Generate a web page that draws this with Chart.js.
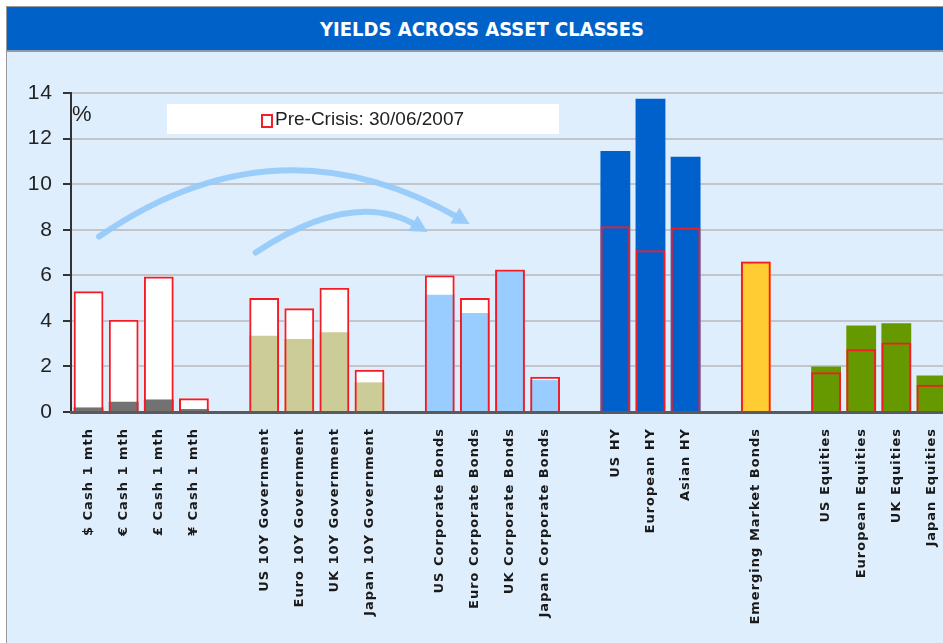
<!DOCTYPE html>
<html>
<head>
<meta charset="utf-8">
<script src="https://cdn.jsdelivr.net/npm/chart.js@4.4.1/dist/chart.umd.min.js"></script>
<style>
  html, body { margin: 0; padding: 0; width: 943px; height: 643px; overflow: hidden; background: #fff; }
  #panel { position: absolute; left: 6px; top: 6px; width: 940px; height: 640px; background: #dfeefd;
           border-left: 1px solid #9a9a9a; border-top: 1px solid #9a9a9a; }
  #title { position: absolute; left: 7px; top: 7px; width: 936px; height: 45px; box-sizing: border-box;
           padding-left: 14px; background: #0062c9; border-bottom: 2px solid #8d9bab; color: #fff;
           font: bold 20px 'DejaVu Sans Condensed', 'DejaVu Sans', sans-serif; font-stretch: condensed;
           text-align: center; line-height: 44px; }
  #chart { position: absolute; left: 0; top: 0; }
  #legend { position: absolute; left: 167px; top: 104px; width: 392px; height: 30px; background: #fff;
            font: 19px 'Liberation Sans', Arial, sans-serif; color: #222; }
  #legend .box { position: absolute; left: 94px; top: 10px; width: 12px; height: 14px; box-sizing: border-box;
                 border: 2px solid #f0202a; background: #fff; }
  #legend .txt { position: absolute; left: 108px; top: 0; line-height: 30px; white-space: nowrap; }
  #pct { position: absolute; left: 72px; top: 101px; font: 22px 'Liberation Sans', Arial, sans-serif; color: #222; }
</style>
</head>
<body>
<div id="panel"></div>
<div id="title">YIELDS ACROSS ASSET CLASSES</div>
<canvas id="chart" width="960" height="643"></canvas>
<div id="legend"><span class="box"></span><span class="txt">Pre-Crisis: 30/06/2007</span></div>
<div id="pct">%</div>
<script>
// empty strings are the gaps between asset groups
const categories = [
  '$ Cash 1 mth', '€ Cash 1 mth', '£ Cash 1 mth', '¥ Cash 1 mth', '',
  'US 10Y Government', 'Euro 10Y Government', 'UK 10Y Government', 'Japan 10Y Government', '',
  'US Corporate Bonds', 'Euro Corporate Bonds', 'UK Corporate Bonds', 'Japan Corporate Bonds', '',
  'US HY', 'European HY', 'Asian HY', '',
  'Emerging Market Bonds', '',
  'US Equities', 'European Equities', 'UK Equities', 'Japan Equities'
];
const groups = [
  'cash', 'cash', 'cash', 'cash', null,
  'gov', 'gov', 'gov', 'gov', null,
  'corp', 'corp', 'corp', 'corp', null,
  'hy', 'hy', 'hy', null,
  'em', null,
  'eq', 'eq', 'eq', 'eq'
];
const currentYield = [
  0.2, 0.45, 0.55, 0.13, null,
  3.35, 3.2, 3.5, 1.3, null,
  5.15, 4.35, 6.2, 1.4, null,
  11.45, 13.75, 11.2, null,
  6.6, null,
  2.0, 3.8, 3.9, 1.6
];
const preCrisis = [
  5.3, 4.05, 5.95, 0.6, null,
  5.0, 4.55, 5.45, 1.85, null,
  6.0, 5.0, 6.25, 1.55, null,
  8.15, 7.1, 8.1, null,
  6.6, null,
  1.75, 2.75, 3.05, 1.2
];
const yMin = 0, yMax = 14, yStep = 2;

const groupColors = {
  cash: '#727272',
  gov: '#cccc99',
  corp: '#99ccff',
  hy: '#0060cc',
  em: '#ffcc33',
  eq: '#669900'
};
const red = '#f41c24';

// the two light blue arrows, in (category index, value) coordinates
const arrows = [
  { from: [0.3, 7.7], peak: [5.47, 10.53], to: [10.85, 8.25] },
  { from: [4.76, 7.0], peak: [7.38, 8.64], to: [9.65, 7.9] }
];

const arrowPlugin = {
  id: 'arrows',
  beforeDatasetsDraw(chart) {
    const { ctx, scales: { x, y } } = chart;
    ctx.save();
    ctx.strokeStyle = 'rgba(150,202,250,0.95)';
    ctx.fillStyle = 'rgba(150,202,250,0.95)';
    ctx.lineWidth = 6;
    ctx.lineCap = 'round';
    arrows.forEach(a => {
      const p0 = [x.getPixelForValue(a.from[0]), y.getPixelForValue(a.from[1])];
      const pm = [x.getPixelForValue(a.peak[0]), y.getPixelForValue(a.peak[1])];
      const p2 = [x.getPixelForValue(a.to[0]), y.getPixelForValue(a.to[1])];
      const c = [2 * pm[0] - (p0[0] + p2[0]) / 2, 2 * pm[1] - (p0[1] + p2[1]) / 2];
      let dx = p2[0] - c[0], dy = p2[1] - c[1];
      const len = Math.hypot(dx, dy);
      dx /= len; dy /= len;
      const endX = p2[0] - dx * 12, endY = p2[1] - dy * 12;
      ctx.beginPath();
      ctx.moveTo(p0[0], p0[1]);
      ctx.quadraticCurveTo(c[0], c[1], endX, endY);
      ctx.stroke();
      const bx = p2[0] - dx * 17, by = p2[1] - dy * 17;
      ctx.beginPath();
      ctx.moveTo(p2[0], p2[1]);
      ctx.lineTo(bx - dy * 9, by + dx * 9);
      ctx.lineTo(bx + dy * 9, by - dx * 9);
      ctx.closePath();
      ctx.fill();
    });
    ctx.restore();
  }
};

const spacingPlugin = {
  id: 'spacing',
  beforeDraw(chart) {
    chart.ctx.letterSpacing = '1px';
  }
};

const ctx = document.getElementById('chart').getContext('2d');
const fillColors = groups.map(g => g ? groupColors[g] : 'transparent');

new Chart(ctx, {
  type: 'bar',
  data: {
    labels: categories,
    datasets: [
      {
        label: 'Pre-Crisis outline',
        data: preCrisis,
        backgroundColor: 'rgba(0,0,0,0)',
        borderColor: red,
        borderWidth: 2,
        borderSkipped: 'start',
        grouped: false,
        order: 0
      },
      {
        label: 'Current',
        data: currentYield,
        backgroundColor: fillColors,
        borderWidth: 0,
        grouped: false,
        order: 1
      },
      {
        label: 'Pre-Crisis: 30/06/2007',
        data: preCrisis,
        backgroundColor: '#ffffff',
        borderWidth: 0,
        grouped: false,
        order: 2
      }
    ]
  },
  options: {
    responsive: false,
    animation: false,
    layout: { padding: { top: 93, right: 11, bottom: 0, left: 0 } },
    datasets: {
      bar: { categoryPercentage: 1, barPercentage: 0.85 }
    },
    scales: {
      x: {
        afterFit(scale) { scale.height = 231; },
        grid: { display: false },
        border: { display: true, color: '#5a5a5a', width: 3, z: 1 },
        ticks: {
          autoSkip: false,
          minRotation: 90,
          maxRotation: 90,
          padding: 8,
          color: '#1a1a1a',
          font: { family: 'DejaVu Sans', size: 13, weight: 'bold' }
        }
      },
      y: {
        min: yMin,
        max: yMax,
        afterFit(scale) { scale.width = 71; },
        grid: { color: '#c3c4cc', lineWidth: 2, tickLength: 8, tickColor: '#333', tickWidth: 2 },
        border: { color: '#333', width: 2 },
        ticks: {
          stepSize: yStep,
          padding: 10,
          color: '#222',
          font: { family: 'Liberation Sans', size: 21 }
        }
      }
    },
    plugins: {
      legend: { display: false },
      tooltip: { enabled: false }
    }
  },
  plugins: [arrowPlugin, spacingPlugin]
});
</script>
</body>
</html>
